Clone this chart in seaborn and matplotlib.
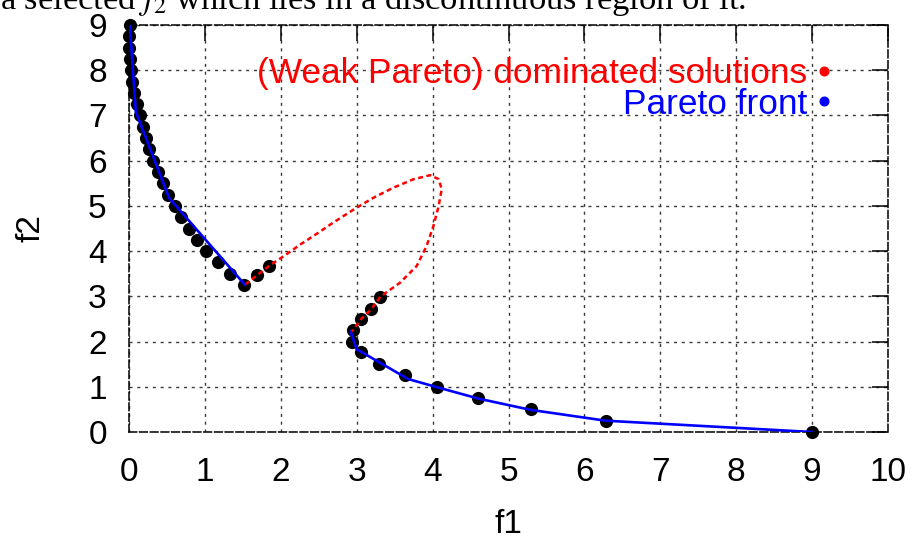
import matplotlib
matplotlib.use("Agg")
import matplotlib.pyplot as plt
from matplotlib.lines import Line2D
import pandas as pd
import seaborn as sns

# Sampled solutions (black dots)
sol_f1 = [0.01, 0.00, 0.00, 0.01, 0.02, 0.04, 0.07, 0.10, 0.14, 0.18, 0.22, 0.27,
          0.32, 0.38, 0.45, 0.52, 0.60, 0.69, 0.79, 0.90, 1.02, 1.17, 1.33, 1.52,
          1.69, 1.85,
          3.31, 3.19, 3.06, 2.95, 2.94, 3.06, 3.29, 3.63, 4.06, 4.60, 5.29, 6.28, 9.00]
sol_f2 = [9.00, 8.75, 8.50, 8.25, 8.00, 7.75, 7.50, 7.25, 7.00, 6.75, 6.50, 6.25,
          6.00, 5.75, 5.50, 5.25, 5.00, 4.75, 4.50, 4.25, 4.00, 3.75, 3.50, 3.25,
          3.48, 3.68,
          2.99, 2.71, 2.50, 2.25, 2.00, 1.76, 1.50, 1.25, 1.00, 0.75, 0.50, 0.25, 0.00]

# Pareto front: upper and lower pieces
front_upper_f1 = [0.01, 0.09, 0.53, 1.53]
front_upper_f2 = [9.00, 7.08, 5.17, 3.25]
front_lower_f1 = [2.92, 3.00, 3.68, 4.06, 4.60, 5.29, 6.28, 9.00]
front_lower_f2 = [2.22, 1.83, 1.17, 0.99, 0.74, 0.49, 0.25, 0.00]

# (Weak Pareto) dominated arc joining the two pieces
dom_f1 = [1.53, 1.85, 2.04, 2.26, 2.48, 2.69, 2.96, 3.22, 3.48, 3.75, 3.97, 4.08,
          4.12, 4.08, 4.01, 3.92, 3.79, 3.57, 3.31, 3.19, 3.06, 2.95, 2.92]
dom_f2 = [3.26, 3.68, 3.89, 4.15, 4.39, 4.63, 4.92, 5.18, 5.40, 5.59, 5.68, 5.59,
          5.37, 5.00, 4.55, 4.11, 3.67, 3.30, 2.99, 2.71, 2.50, 2.25, 2.22]

x_ticks = list(range(0, 11))
y_ticks = list(range(0, 10))
legend_labels = ["(Weak Pareto) dominated solutions", "Pareto front"]

sns.set_theme(style="white")
plt.rcParams["font.family"] = ["Liberation Sans", "DejaVu Sans"]
plt.rcParams["mathtext.fontset"] = "stix"

fig = plt.figure(figsize=(9.15, 5.38), dpi=100)
ax = fig.add_axes([129 / 915, 1 - 432 / 538, (888 - 129) / 915, (432 - 25) / 538])

sols = pd.DataFrame({"f1": sol_f1, "f2": sol_f2})
upper = pd.DataFrame({"f1": front_upper_f1, "f2": front_upper_f2})
lower = pd.DataFrame({"f1": front_lower_f1, "f2": front_lower_f2})
dom = pd.DataFrame({"f1": dom_f1, "f2": dom_f2})

sns.scatterplot(data=sols, x="f1", y="f2", ax=ax, color="black", s=90,
                linewidth=0, clip_on=False, zorder=3)
sns.lineplot(data=dom, x="f1", y="f2", ax=ax, sort=False, estimator=None,
             color="#ff0000", lw=1.8, linestyle=(0, (2.0, 1.4)), zorder=4)
for seg in (upper, lower):
    sns.lineplot(data=seg, x="f1", y="f2", ax=ax, sort=False, estimator=None,
                 color="#0000ff", lw=1.9, zorder=5)

ax.set_xlim(0, 10)
ax.set_ylim(0, 9)
ax.set_xticks(x_ticks)
ax.set_yticks(y_ticks)
ax.grid(True, color="#3a3a3a", lw=1.0, linestyle=(0, (2.2, 3.4)))
ax.set_axisbelow(True)
for sp in ax.spines.values():
    sp.set_visible(True)
    sp.set_color("black")
    sp.set_linewidth(1.1)
    sp.set_linestyle((0, (5, 2)))
ax.tick_params(direction="in", length=11.5, width=1.1, color="black",
               top=True, right=True, labelsize=24, labelcolor="black")
ax.tick_params(axis="x", pad=18)
ax.tick_params(axis="y", pad=16)
ax.set_xlabel("f1", fontsize=24, labelpad=15, color="black")
ax.set_ylabel("f2", fontsize=24, labelpad=30, color="black")

handles = [Line2D([], [], ls="", marker="o", color="#ff0000", markersize=6.2),
           Line2D([], [], ls="", marker="o", color="#0000ff", markersize=6.2)]
ax.legend(handles, legend_labels, loc="upper right", bbox_to_anchor=(0.9275, 0.921),
          markerfirst=False, frameon=False, fontsize=25.4, labelcolor=["#ff0000", "#0000ff"],
          handlelength=0.5, handletextpad=0.22, labelspacing=-0.07, borderaxespad=0,
          borderpad=0)

fig.text(0.0, 1 - 9 / 538, "a selected $f_2$ which lies in a discontinuous region of it.",
         family="Liberation Serif", fontsize=24.8, va="baseline", ha="left", color="black")

fig.savefig("out.png", dpi=100)
